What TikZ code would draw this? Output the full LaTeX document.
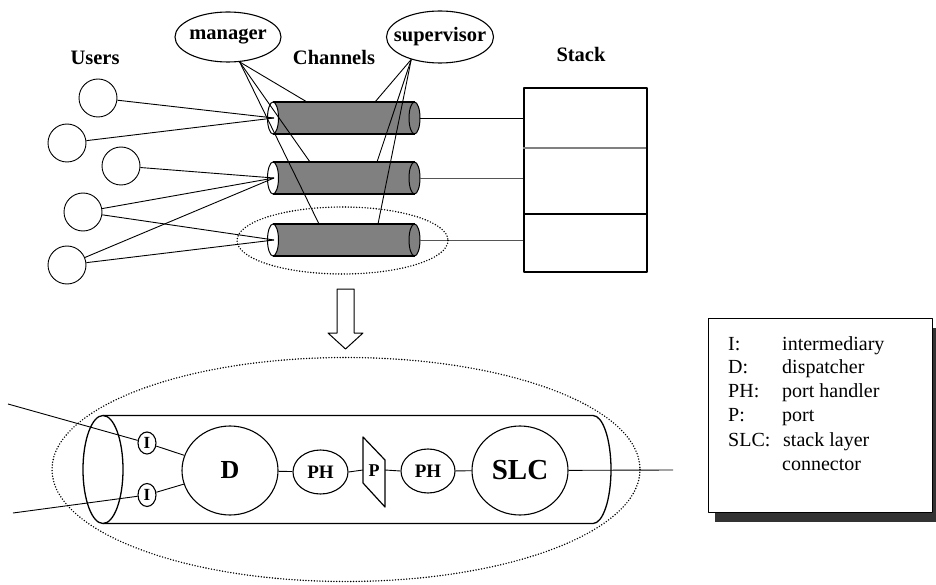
\documentclass[tikz,border=0pt]{standalone}
\usepackage{fontspec}
\setmainfont{Liberation Serif}
\usetikzlibrary{shapes.geometric}
\definecolor{chgray}{HTML}{808080}
\definecolor{shadowgray}{HTML}{333333}
\definecolor{wiregray}{HTML}{555555}

% one channel of the upper view: #1 name prefix, #2 centre y
\newcommand\drawchannel[2]{%
  \fill[chgray] (273,#2-16) rectangle (414.5,#2+16);
  \filldraw[fill=chgray, line width=1pt] (414.5,#2) ellipse (5.5 and 16);
  \filldraw[fill=white, line width=1pt] (273,#2) ellipse (5.5 and 16);
  \draw[line width=1.6pt] (273,#2-16) -- (414.5,#2-16) (273,#2+16) -- (414.5,#2+16);
  \coordinate (#1in) at (274,#2);
  \coordinate (#1out) at (420,#2);
}

\begin{document}
\begin{tikzpicture}[x=1pt, y=-1pt, line join=round,
  lbl/.style={font=\fontsize{20.5}{24}\selectfont\bfseries, inner sep=0},
  user/.style={circle, draw, line width=0.9pt, minimum size=38, inner sep=0},
  oval/.style={ellipse, draw, line width=1.1pt, inner sep=0},
  link/.style={line width=0.9pt},
  dots/.style={line width=1.6pt, dash pattern=on 0pt off 2.8pt, line cap=round},
  legtext/.style={font=\fontsize{20}{24}\selectfont, inner sep=0, anchor=base west}]

\useasboundingbox (0,0) rectangle (936,585);

% ---------------- upper view: users, channels, stack ----------------
\node[lbl, anchor=base] (userslbl) at (95,65) {Users};
\node[lbl, anchor=base] (chanlbl) at (334,65) {Channels};
\node[lbl, anchor=base] (stacklbl) at (581,62) {Stack};

\node[oval, minimum width=106, minimum height=50,
      label={[lbl]center:manager}] (mgr) at (228,37) {};
\node[oval, minimum width=107, minimum height=52,
      label={[lbl]center:supervisor}] (sup) at (440,37) {};

\node[user] (u1) at (98,98) {};
\node[user] (u2) at (67,143) {};
\node[user] (u3) at (121,166) {};
\node[user] (u4) at (83,212) {};
\node[user] (u5) at (67,265) {};

\drawchannel{ca}{118}
\drawchannel{cb}{178}
\drawchannel{cc}{240}

\coordinate (catop) at (307,102);
\coordinate (cbtop) at (310,162);
\coordinate (cctop) at (319,224);
\coordinate (satop) at (375,102);
\coordinate (sbtop) at (377,162);
\coordinate (sctop) at (378,224);

% users to channels
\draw[link] (u1) -- (cain);
\draw[link] (u2) -- (cain);
\draw[link] (u3) -- (cbin);
\draw[link] (u4) -- (cbin);
\draw[link] (u5) -- (cbin);
\draw[link] (u4) -- (ccin);
\draw[link] (u5) -- (ccin);

% manager and supervisor attach to every channel
\foreach \t in {catop,cbtop,cctop} \draw[link] (mgr.-65) -- (\t);
\foreach \t in {satop,sbtop,sctop} \draw[link] (sup.-142) -- (\t);

% stack
\node[draw, line width=1.8pt, minimum width=123, minimum height=184,
      inner sep=0, anchor=north west] (stack) at (523,87) {};
\coordinate (sa) at (523,118);
\coordinate (sb) at (523,178);
\coordinate (sc) at (523,240);
\draw[line width=1.2pt, chgray] (523,148) -- (646,148);
\draw[line width=1.5pt] (523,214) -- (648,214);
\draw[link] (caout) -- (sa);
\draw[link, wiregray] (cbout) -- (sb);
\draw[link, wiregray] (ccout) -- (sc);

% the channel that is shown in detail
\draw[dots] (342.5,240.5) ellipse (105.5 and 33.5);

% hollow arrow down to the detail view
\draw[line width=1pt, fill=white] (337,289) -- (354,289) -- (354,333) -- (363,333)
  -- (345.5,349) -- (328,333) -- (337,333) -- cycle;

% ---------------- detail view of one channel ----------------
\draw[dots] (346,469.5) ellipse (294 and 112);

% tube
\draw[line width=1.3pt] (103,415.5) -- (593,415.5)
  arc[start angle=-90, end angle=90, x radius=18, y radius=54]
  -- (103,523.5);
\draw[line width=1.3pt] (103,469.5) ellipse (20 and 54);

\node[oval, minimum width=18, minimum height=22,
      font=\fontsize{17}{18}\selectfont\bfseries] (i1) at (147,443) {I};
\node[oval, minimum width=18, minimum height=23,
      font=\fontsize{17}{18}\selectfont\bfseries] (i2) at (147,495) {I};
\node[oval, minimum width=96, minimum height=89,
      font=\fontsize{26}{28}\selectfont\bfseries] (d) at (230,470.5) {D};
\node[oval, minimum width=55, minimum height=44,
      font=\fontsize{19}{22}\selectfont\bfseries] (ph1) at (320.5,472) {PH};
\node[oval, minimum width=54, minimum height=44,
      font=\fontsize{19}{22}\selectfont\bfseries] (ph2) at (428,471) {PH};
\node[oval, minimum width=96, minimum height=89,
      font=\fontsize{29}{32}\selectfont\bfseries] (slc) at (520,470.5) {SLC};

% port
\draw[line width=1.2pt] (363,437) -- (385,460) -- (385,507) -- (363,483) -- cycle;
\node[font=\fontsize{18}{20}\selectfont\bfseries, inner sep=0] (p) at (374,471) {P};
\coordinate (pl) at (363,470);
\coordinate (pr) at (385,470);

\coordinate (ext1) at (8,404);
\coordinate (ext2) at (13,513);
\coordinate (ext3) at (673,470);

\draw[link] (ext1) -- (i1);
\draw[link] (ext2) -- (i2);
\draw[link] (i1) -- (d);
\draw[link] (i2) -- (d);
\draw[link] (d) -- (ph1);
\draw[link] (ph1.east) -- (pl);
\draw[link] (pr) -- (ph2.west);
\draw[link] (ph2) -- (slc);
\draw[link] (slc) -- (ext3);

% ---------------- legend ----------------
\fill[shadowgray] (715,328) rectangle (936,522);
\node[draw, fill=white, line width=1.3pt, minimum width=224, minimum height=194,
      inner sep=0, anchor=north west] (legend) at (708,318) {};
\node[legtext] (k1) at (728,350) {I:};
\node[legtext] (v1) at (782,350) {intermediary};
\node[legtext] (k2) at (728,373) {D:};
\node[legtext] (v2) at (782,373) {dispatcher};
\node[legtext] (k3) at (728,397) {PH:};
\node[legtext] (v3) at (782,397) {port handler};
\node[legtext] (k4) at (728,421) {P:};
\node[legtext] (v4) at (782,421) {port};
\node[legtext] (k5) at (728,446) {SLC:};
\node[legtext] (v5) at (783,446) {stack layer};
\node[legtext] (v6) at (782,470) {connector};

\end{tikzpicture}
\end{document}
